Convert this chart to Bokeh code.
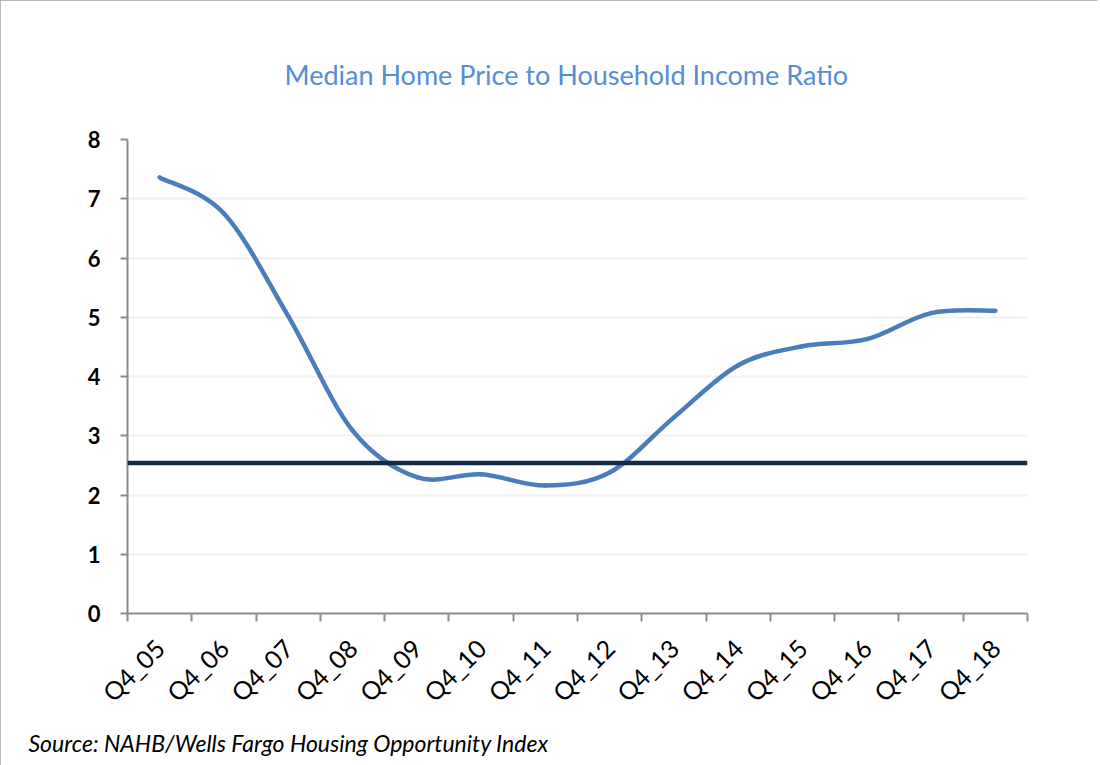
import numpy as np
from bokeh.plotting import figure
from bokeh.models import Range1d, FixedTicker, Span, Title
from bokeh.embed import file_html
from bokeh.resources import INLINE

categories = ["Q4_05", "Q4_06", "Q4_07", "Q4_08", "Q4_09", "Q4_10", "Q4_11",
              "Q4_12", "Q4_13", "Q4_14", "Q4_15", "Q4_16", "Q4_17", "Q4_18"]
ratio = [7.36, 6.75, 5.02, 3.09, 2.30, 2.35, 2.16, 2.38, 3.31, 4.19, 4.51, 4.63, 5.07, 5.11]
reference_level = 2.54
y_ticks = [0, 1, 2, 3, 4, 5, 6, 7, 8]

title_text = "Median Home Price to Household Income Ratio"
source_text = "Source: NAHB/Wells Fargo Housing Opportunity Index"

FONT = "Lato"
n = len(categories)
xs = np.arange(n) + 0.5
ys = np.array(ratio, dtype=float)

W, H = 1098, 765
LEFT, TOP, BOTTOM = 127, 139, 152
p = figure(width=W, height=H, output_backend="svg", toolbar_location=None,
           x_range=Range1d(0, n), y_range=Range1d(0, 8),
           min_border_left=LEFT, min_border_right=71, min_border_top=TOP,
           min_border_bottom=BOTTOM)
p.outline_line_color = None
p.styles = {"outline": "2px solid #a0a0a0", "outline-offset": "-2px"}

# smooth curve (Excel-like smoothing): cubic Bezier segments through the data points
t = 1.0 / 6.0
xp = np.concatenate([[xs[0]], xs, [xs[-1]]])
yp = np.concatenate([[ys[0]], ys, [ys[-1]]])
x0 = xs[:-1]; y0 = ys[:-1]; x1 = xs[1:]; y1 = ys[1:]
cx0 = xs[:-1] + (xp[2:-1] - xp[:-3]) * t
cy0 = ys[:-1] + (yp[2:-1] - yp[:-3]) * t
cx1 = xs[1:] - (xp[3:] - xp[1:-2]) * t
cy1 = ys[1:] - (yp[3:] - yp[1:-2]) * t

p.add_layout(Span(location=reference_level, dimension="width",
                  line_color="#13294a", line_width=4.5))
p.bezier(x0=x0, y0=y0, x1=x1, y1=y1, cx0=cx0, cy0=cy0, cx1=cx1, cy1=cy1,
         line_color="#4a7ebb", line_width=4.5, line_cap="round")

# axes
xa = p.xaxis[0]
xa.ticker = FixedTicker(ticks=list(xs), minor_ticks=list(range(n + 1)))
xa.major_label_overrides = {float(x): c for x, c in zip(xs, categories)}
xa.major_label_orientation = np.pi / 4
xa.major_tick_out = 0
xa.major_tick_in = 0
xa.minor_tick_out = 8
xa.minor_tick_in = 0
xa.minor_tick_line_color = "#8c8c8c"
xa.minor_tick_line_width = 2
xa.axis_line_color = "#8c8c8c"
xa.axis_line_width = 2
xa.major_label_text_font = FONT
xa.major_label_text_font_size = "25px"
xa.major_label_text_color = "#000000"
xa.major_label_standoff = 22

ya = p.yaxis[0]
ya.ticker = FixedTicker(ticks=y_ticks)
ya.major_tick_out = 7
ya.major_tick_in = 0
ya.minor_tick_out = 0
ya.minor_tick_in = 0
ya.major_tick_line_color = "#8c8c8c"
ya.major_tick_line_width = 2
ya.axis_line_color = "#8c8c8c"
ya.axis_line_width = 2
ya.major_label_text_font = FONT
ya.major_label_text_font_size = "22px"
ya.major_label_text_font_style = "bold"
ya.major_label_text_color = "#000000"
ya.major_label_standoff = 20

p.xgrid.grid_line_color = None
p.ygrid.ticker = FixedTicker(ticks=y_ticks)
p.ygrid.grid_line_color = "#f0f0f0"
p.ygrid.grid_line_width = 2

# title and source note
p.add_layout(Title(text=title_text, align="left", offset=284 - LEFT, standoff=97,
                   text_font=FONT, text_font_size="27px", text_font_style="normal",
                   text_color="#558ed5"), "above")
p.add_layout(Title(text=source_text, align="left", offset=28 - LEFT, standoff=12,
                   text_font=FONT, text_font_size="23px", text_font_style="italic",
                   text_color="#000000"), "below")

open("out.html", "w").write(file_html(p, INLINE))
